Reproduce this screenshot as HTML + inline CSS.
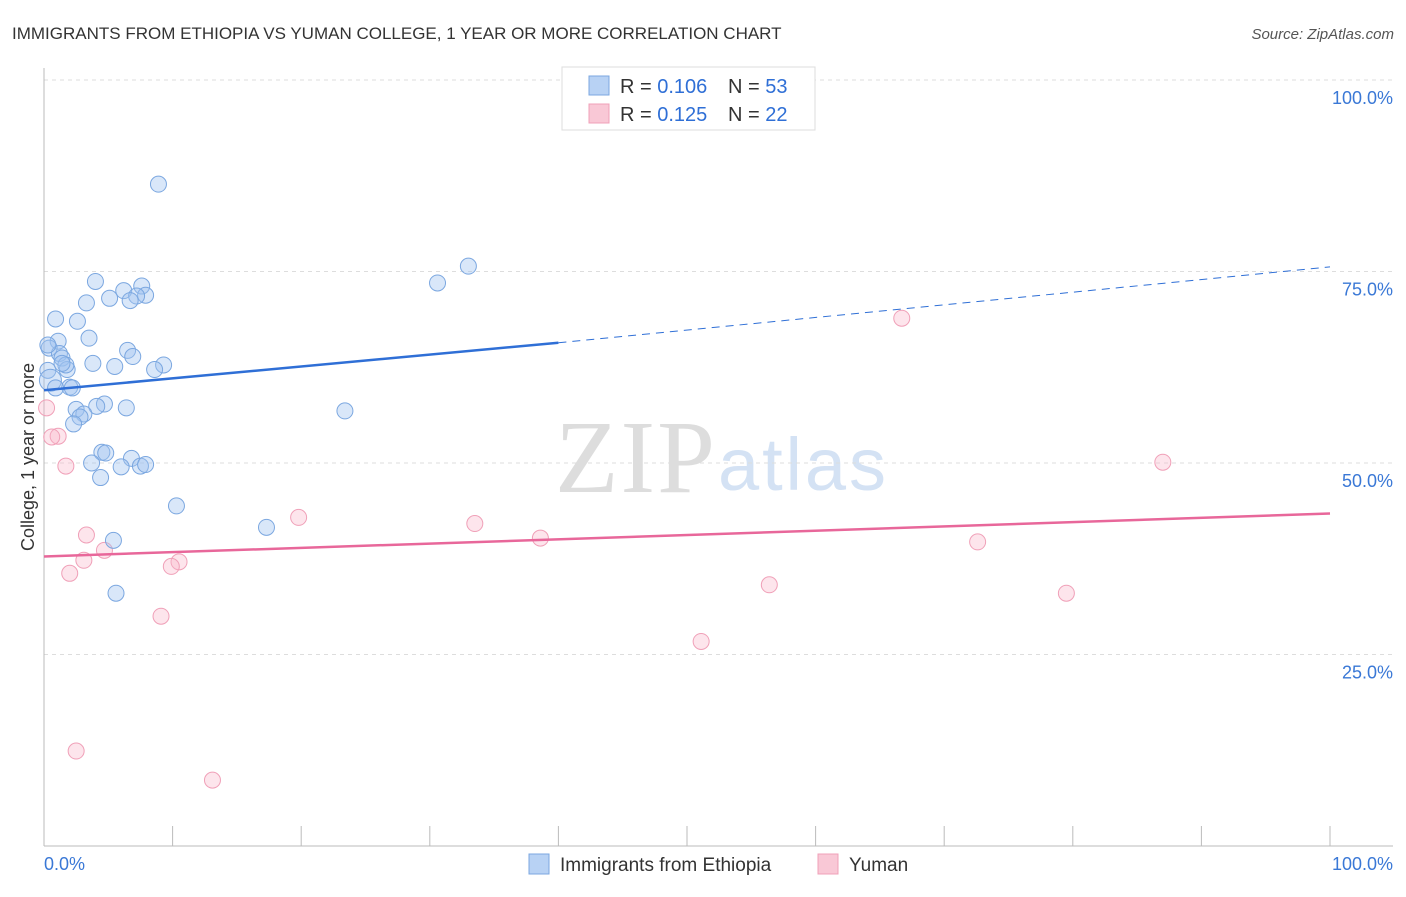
<!DOCTYPE html>
<html><head><meta charset="utf-8"><style>
body{margin:0;background:#fff;font-family:"Liberation Sans",sans-serif}
</style></head><body>
<svg width="1406" height="892" xmlns="http://www.w3.org/2000/svg" id="chart">
<text x="12" y="39" font-size="17" fill="#333">IMMIGRANTS FROM ETHIOPIA VS YUMAN COLLEGE, 1 YEAR OR MORE CORRELATION CHART</text>
<text x="1394" y="39" font-size="15" fill="#555" font-style="italic" text-anchor="end">Source: ZipAtlas.com</text>
<text x="715" y="492" font-size="104" fill="#ddd" font-family="Liberation Serif,serif" text-anchor="end" textLength="160">ZIP</text>
<text x="718" y="490" font-size="74" fill="#d4e2f4" text-anchor="start" textLength="168">atlas</text>
<g id="grid"></g><g id="axes"></g><g id="marks"></g>
<text transform="translate(34,457) rotate(-90)" font-size="18" fill="#333" text-anchor="middle">College, 1 year or more</text>
<g>
<rect x="562" y="67" width="253" height="63" fill="#fff" stroke="#ddd"/>
<rect x="589" y="76" width="20" height="19" fill="#b8d2f4" stroke="#7ba7e0"/>
<rect x="589" y="104" width="20" height="19" fill="#f9c8d6" stroke="#f0a0b8"/>
<text x="620" y="93" font-size="20" fill="#333">R = <tspan fill="#2f6fd6">0.106</tspan></text>
<text x="728" y="93" font-size="20" fill="#333">N = <tspan fill="#2f6fd6">53</tspan></text>
<text x="620" y="121" font-size="20" fill="#333">R = <tspan fill="#2f6fd6">0.125</tspan></text>
<text x="728" y="121" font-size="20" fill="#333">N = <tspan fill="#2f6fd6">22</tspan></text>
</g>
<g>
<rect x="529" y="854" width="20" height="20" fill="#b8d2f4" stroke="#7ba7e0"/>
<text x="560" y="871" font-size="19" fill="#333">Immigrants from Ethiopia</text>
<rect x="818" y="854" width="20" height="20" fill="#f9c8d6" stroke="#f0a0b8"/>
<text x="849" y="871" font-size="19" fill="#333">Yuman</text>
</g>
</svg>
<script>
const blueX=[8.9,33.0,30.6,4.0,7.6,6.2,7.9,7.2,5.1,6.7,3.3,0.9,2.6,3.5,1.1,0.4,1.2,6.5,6.9,1.4,3.8,5.5,9.3,1.8,8.6,0.3,2.0,2.2,4.7,4.1,6.4,2.5,3.1,2.8,23.4,2.3,4.5,4.8,6.8,3.7,6.0,7.5,7.9,4.4,10.3,17.3,5.4,5.6,0.5,0.3,1.7,0.9,1.4];
const blueY=[86.4,75.7,73.5,73.7,73.1,72.5,71.9,71.8,71.5,71.2,70.9,68.8,68.5,66.3,65.9,65.0,64.3,64.7,63.9,63.7,63.0,62.6,62.8,62.2,62.2,62.1,59.9,59.8,57.7,57.4,57.2,57.0,56.4,56.0,56.8,55.1,51.4,51.3,50.6,50.0,49.5,49.6,49.8,48.1,44.4,41.6,39.9,33.0,60.8,65.4,62.8,59.8,63.0];
const pinkX=[66.7,0.2,1.1,0.6,1.7,87.0,19.8,33.5,3.3,38.6,72.6,4.7,3.1,10.5,9.9,2.0,56.4,79.5,9.1,51.1,2.5,13.1];
const pinkY=[68.9,57.2,53.5,53.4,49.6,50.1,42.9,42.1,40.6,40.2,39.7,38.6,37.3,37.1,36.5,35.6,34.1,33.0,30.0,26.7,12.4,8.6];
const yTicks=[25,50,75,100];
const yTickLabels=["25.0%","50.0%","75.0%","100.0%"];
const blueTrend=[59.5,65.7,75.6]; // at x=0, 40, 100
const pinkTrend=[37.8,43.4]; // at x=0, 100
const NS="http://www.w3.org/2000/svg";
const X0=44,X1=1330,Y0=846,Y100=80;
const sx=v=>X0+(X1-X0)*v/100, sy=v=>Y0-(Y0-Y100)*v/100;
function mk(tag,attrs,parent){const e=document.createElementNS(NS,tag);for(const k in attrs)e.setAttribute(k,attrs[k]);document.getElementById(parent).appendChild(e);return e;}
yTicks.forEach((t,i)=>{
 const g=mk('line',{x1:X0,x2:1393,y1:sy(t),y2:sy(t),stroke:'#ddd','stroke-dasharray':'4,4'},'grid');
 
 
 const l=mk('text',{x:1393,y:sy(t)+24,'font-size':18,fill:'#3a78d6','text-anchor':'end'},'grid');
 l.textContent=yTickLabels[i];
 
 
});
let a=mk('line',{x1:X0,x2:X0,y1:68,y2:Y0,stroke:'#bbb'},'axes');


a=mk('line',{x1:X0,x2:1393,y1:Y0,y2:Y0,stroke:'#bbb'},'axes');


for(let i=0;i<=10;i++){const t=mk('line',{x1:sx(i*10),x2:sx(i*10),y1:826,y2:Y0,stroke:'#bbb'},'axes');
 
 }
let xl=mk('text',{x:44,y:870,'font-size':18,fill:'#3a78d6'},'axes');xl.textContent='0.0%';


xl=mk('text',{x:1393,y:870,'font-size':18,fill:'#3a78d6','text-anchor':'end'},'axes');xl.textContent='100.0%';


pinkX.forEach((v,i)=>{const c=mk('circle',{cx:sx(v),cy:sy(pinkY[i]),r:8,fill:'rgba(248,180,200,0.35)',stroke:'#f0a0b8','stroke-width':1},'marks');
 
 });
blueX.forEach((v,i)=>{const c=mk('circle',{cx:sx(v),cy:sy(blueY[i]),r:i==48?11:8,fill:'rgba(160,196,240,0.4)',stroke:'#7ba7e0','stroke-width':1},'marks');
 
 });
let tl=mk('line',{x1:sx(0),y1:sy(blueTrend[0]),x2:sx(40),y2:sy(blueTrend[1]),stroke:'#2f6fd6','stroke-width':2.5},'marks');


tl=mk('line',{x1:sx(40),y1:sy(blueTrend[1]),x2:sx(100),y2:sy(blueTrend[2]),stroke:'#2f6fd6','stroke-width':1,'stroke-dasharray':'8,6'},'marks');


tl=mk('line',{x1:sx(0),y1:sy(pinkTrend[0]),x2:sx(100),y2:sy(pinkTrend[1]),stroke:'#e8679a','stroke-width':2.5},'marks');


</script>
</body></html>
